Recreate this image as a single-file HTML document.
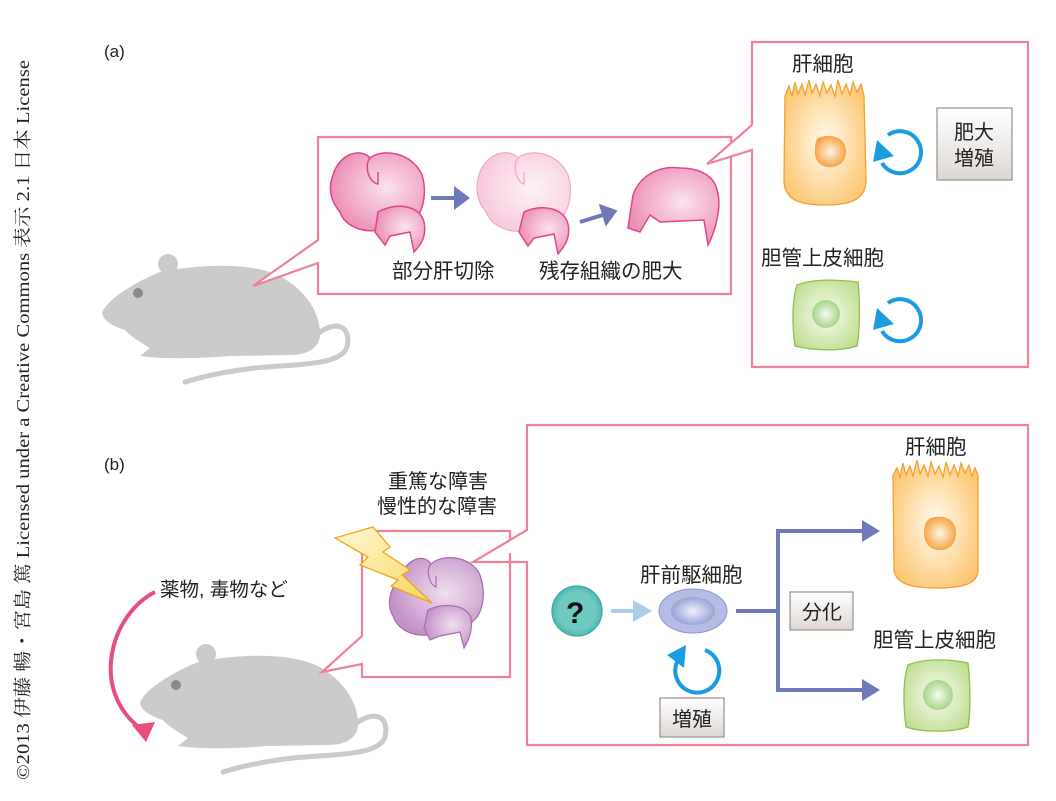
<!DOCTYPE html>
<html><head><meta charset="utf-8"><style>
html,body{margin:0;padding:0;background:#fff;}
svg{display:block;}
text{font-family:"Liberation Sans","Noto Sans CJK JP",sans-serif;fill:#222;}
</style></head><body>
<svg width="1056" height="801" viewBox="0 0 1056 801" xmlns="http://www.w3.org/2000/svg">
<defs>
<radialGradient id="pk" cx="0.6" cy="0.45" r="0.6"><stop offset="0" stop-color="#fbe3ef"/><stop offset="1" stop-color="#ec8fb6"/></radialGradient>
<radialGradient id="pkl" cx="0.6" cy="0.45" r="0.6"><stop offset="0" stop-color="#fdf1f6"/><stop offset="1" stop-color="#f7cadd"/></radialGradient>
<radialGradient id="pu" cx="0.6" cy="0.45" r="0.6"><stop offset="0" stop-color="#f1dff0"/><stop offset="1" stop-color="#c390c7"/></radialGradient>
<radialGradient id="or" cx="0.5" cy="0.5" r="0.7"><stop offset="0" stop-color="#fffaf0"/><stop offset="1" stop-color="#fbbd5a"/></radialGradient>
<radialGradient id="orn" cx="0.5" cy="0.5" r="0.5"><stop offset="0" stop-color="#fff6e6"/><stop offset="1" stop-color="#f6a548"/></radialGradient>
<radialGradient id="gr" cx="0.5" cy="0.5" r="0.7"><stop offset="0" stop-color="#f8fcef"/><stop offset="1" stop-color="#b6d982"/></radialGradient>
<radialGradient id="grn" cx="0.5" cy="0.5" r="0.5"><stop offset="0" stop-color="#f4fbee"/><stop offset="1" stop-color="#a8d58a"/></radialGradient>
<radialGradient id="bl" cx="0.5" cy="0.5" r="0.5"><stop offset="0" stop-color="#eef0fa"/><stop offset="1" stop-color="#9ba3d6"/></radialGradient>
<radialGradient id="tq" cx="0.5" cy="0.5" r="0.5"><stop offset="0" stop-color="#d8f2ef"/><stop offset="1" stop-color="#4cb9b0"/></radialGradient>
<linearGradient id="bx" x1="0" y1="0" x2="0" y2="1"><stop offset="0" stop-color="#ffffff"/><stop offset="1" stop-color="#ddd8d4"/></linearGradient>
<linearGradient id="lt" x1="0" y1="0" x2="1" y2="1"><stop offset="0" stop-color="#fff9d8"/><stop offset="1" stop-color="#fbd45c"/></linearGradient>
<marker id="ab" markerWidth="6" markerHeight="6" refX="1" refY="3" orient="auto" markerUnits="strokeWidth"><path d="M0,0 L4,3 L0,6Z" fill="#6f78b8"/></marker>
<g id="mouse">
<path d="M312,338 C335,318 352,325 347,347 C341,366 295,364 255,368 C220,372 198,378 185,382" fill="none" stroke="#cbcbcb" stroke-width="5" stroke-linecap="round"/>
<circle cx="168" cy="264" r="10" fill="#cbcbcb"/>
<path d="M102,313 C106,300 135,282 160,272 C200,264 250,262 280,276 C305,290 318,310 320,330 C322,346 310,355 290,355 L230,356 C200,358 170,360 140,356 L150,348 C140,342 130,336 125,330 C112,326 103,320 102,313Z" fill="#cbcbcb"/>
</g>
</defs>

<text x="0" y="0" transform="translate(29,780) rotate(-90)" font-size="18" textLength="720" lengthAdjust="spacingAndGlyphs" style="font-family:'Liberation Serif','Noto Serif CJK SC',serif">©2013 伊藤 暢・宮島 篤 Licensed under a Creative Commons 表示 2.1 日本 License</text>

<!-- (a) -->
<text x="104" y="57" font-size="17">(a)</text>
<use href="#mouse"/>
<circle cx="138" cy="293" r="5" fill="#8a8a8a"/>
<path d="M318,240 L318,137 L731,137 L731,294 L318,294 L318,263 L253,286 Z" fill="#fff" stroke="#ee8296" stroke-width="2.2"/>
<path d="M752,125 L752,42 L1028,42 L1028,367 L752,367 L752,150 L707,164 L752,125" fill="#fff" stroke="#ee8296" stroke-width="2.2"/>

<g stroke="#e0448a" stroke-width="1.5">
<path d="M333,175 C340,152 362,148 370,158 C382,148 412,152 422,175 C428,195 422,215 412,222 L385,228 C368,235 345,228 340,212 C330,200 328,188 333,175Z" fill="url(#pk)"/>
<path d="M370,158 C364,165 368,182 378,184 L378,172" fill="none"/>
<path d="M378,212 C395,202 420,205 424,222 C427,237 420,246 414,252 L410,232 L390,236 L385,245 L375,232 Z" fill="url(#pk)"/>
</g>
<g stroke="#f4a5c5" stroke-width="1.2">
<path d="M480,172 C488,152 510,148 518,158 C530,148 558,152 568,175 C574,195 568,215 557,222 L530,230 C512,235 492,227 486,212 C476,200 475,186 480,172Z" fill="url(#pkl)"/>
<path d="M518,158 C512,165 516,182 524,184 L524,172" fill="none"/>
</g>
<path d="M524,212 C540,204 564,207 568,224 C571,238 564,247 558,254 L554,234 L534,238 L528,246 L519,232 Z" fill="url(#pk)" stroke="#e0448a" stroke-width="1.5"/>
<path d="M633,195 C640,175 660,165 680,168 C700,168 714,176 717,190 C722,205 716,230 708,245 L704,220 L660,222 L650,215 L640,232 L628,228 Z" fill="url(#pk)" stroke="#e0448a" stroke-width="1.5"/>
<line x1="431" y1="198" x2="458" y2="198" stroke="#6f78b8" stroke-width="4" marker-end="url(#ab)"/>
<line x1="580" y1="222" x2="606" y2="214" stroke="#6f78b8" stroke-width="4" marker-end="url(#ab)"/>
<text x="392" y="278" font-size="20.5">部分肝切除</text>
<text x="539" y="278" font-size="20.5">残存組織の肥大</text>

<text x="792" y="71" font-size="20.5">肝細胞</text>
<path d="M785,96 L789,86 L792,96 L795,82 L798,94 L802,84 L805,95 L809,80 L812,93 L816,84 L820,96 L823,82 L827,93 L831,85 L835,96 L838,80 L842,94 L846,84 L850,95 L853,82 L857,92 L861,84 L864,96 L866,180 C866,200 850,205 825,205 C800,205 784,200 784,180 Z" fill="url(#or)" stroke="#f2a22f" stroke-width="1.3"/>
<path d="M818,138 C830,133 845,137 846,150 C847,162 838,168 828,167 C818,166 814,158 815,150 C815,143 816,140 818,138Z" fill="url(#orn)"/>
<path d="M888,135 A21,21 0 1,1 882,163" fill="none" stroke="#1a9de0" stroke-width="4"/>
<path d="M873,162 L877,140 L894,156 Z" fill="#1a9de0"/>
<rect x="937" y="108" width="75" height="72" fill="url(#bx)" stroke="#9a9088" stroke-width="1.2"/>
<text x="954" y="139" font-size="20">肥大</text>
<text x="954" y="165" font-size="20">増殖</text>
<text x="761" y="265" font-size="20.5">胆管上皮細胞</text>
<path d="M797,285 C815,278 840,280 858,282 C860,300 860,330 857,346 C840,352 810,350 795,346 C792,325 792,300 797,285Z" fill="url(#gr)" stroke="#8cc14a" stroke-width="1.3"/>
<circle cx="826" cy="314" r="14" fill="url(#grn)"/>
<path d="M888,303 A21,21 0 1,1 882,331" fill="none" stroke="#1a9de0" stroke-width="4"/>
<path d="M873,330 L877,308 L894,324 Z" fill="#1a9de0"/>

<!-- (b) -->
<text x="104" y="470" font-size="17">(b)</text>
<use href="#mouse" transform="translate(38,390)"/>
<circle cx="176" cy="685" r="5" fill="#8a8a8a"/>
<text x="160" y="596" font-size="19.5">薬物, 毒物など</text>
<path d="M155,592 C110,615 90,690 140,728" fill="none" stroke="#e45079" stroke-width="4"/>
<path d="M132,725 L155,722 L146,742 Z" fill="#e45079"/>
<text x="388" y="488" font-size="20">重篤な障害</text>
<text x="377" y="513" font-size="20">慢性的な障害</text>

<path d="M362,636 L362,531 L510,531 L510,677 L362,677 L362,664 L322,672 Z" fill="#fff" stroke="#ee8296" stroke-width="2.2"/>
<path d="M527,530 L527,425 L1028,425 L1028,745 L527,745 L527,562 L473,562 Z" fill="#fff" stroke="#ee8296" stroke-width="2.2"/>
<line x1="510" y1="553" x2="510" y2="565" stroke="#ee8296" stroke-width="2.2"/>

<g stroke="#a86cae" stroke-width="1.2">
<path d="M398,580 C408,556 425,554 431,564 C442,553 472,556 480,575 C487,595 482,615 472,622 L440,632 C420,640 398,632 393,616 C386,605 390,590 398,580Z" fill="url(#pu)"/>
<path d="M431,564 C425,572 430,585 436,587 L436,576" fill="none"/>
<path d="M428,610 C445,602 467,605 471,618 C473,630 469,640 464,648 L460,632 L440,636 L430,640 L424,628 Z" fill="url(#pu)"/>
</g>
<path d="M335,538 L373,527 L390,547 L383,552 L410,570 L402,575 L432,603 L391,586 L398,580 L360,565 L368,557 Z" fill="url(#lt)" stroke="#f0a51a" stroke-width="1.3"/>

<circle cx="577" cy="611" r="25" fill="url(#tq)" stroke="#3aa9a2" stroke-width="1.2"/>
<circle cx="577" cy="611" r="17" fill="#6ccac2"/>
<text x="566" y="623" font-size="30" font-weight="bold" style="fill:#111">?</text>
<line x1="611" y1="611" x2="634" y2="611" stroke="#a9cdea" stroke-width="4"/>
<path d="M633,600 L652,611 L633,622 Z" fill="#a9cdea"/>
<text x="640" y="582" font-size="20.5">肝前駆細胞</text>
<ellipse cx="693" cy="611" rx="34" ry="22" fill="#b4bce6" stroke="#8d97cf" stroke-width="1"/>
<ellipse cx="693" cy="611" rx="22" ry="14" fill="url(#bl)"/>
<path d="M705,650 A22,22 0 1,1 678,660" fill="none" stroke="#1a9de0" stroke-width="4"/>
<path d="M667,655 L686,645 L684,668 Z" fill="#1a9de0"/>
<rect x="660" y="698" width="64" height="39" fill="url(#bx)" stroke="#9a9088" stroke-width="1.2"/>
<text x="672" y="726" font-size="20">増殖</text>

<path d="M736,611 L778,611 M778,531 L778,692" stroke="#6f78b8" stroke-width="4" fill="none"/>
<path d="M776,531 L862,531 M776,690 L862,690" stroke="#6f78b8" stroke-width="4" fill="none"/>
<path d="M862,520 L880,531 L862,542 Z M862,679 L880,690 L862,701 Z" fill="#6f78b8"/>
<rect x="790" y="592" width="63" height="38" fill="url(#bx)" stroke="#9a9088" stroke-width="1.2"/>
<text x="802" y="619" font-size="20">分化</text>

<text x="905" y="454" font-size="20.5">肝細胞</text>
<path d="M893,475 L897,468 L900,477 L903,463 L906,475 L910,466 L913,476 L917,460 L920,474 L924,465 L928,476 L931,462 L935,474 L939,466 L943,477 L946,462 L950,475 L954,465 L958,476 L961,463 L965,473 L969,465 L972,476 L975,468 L978,475 L978,570 C978,585 960,588 937,588 C912,588 894,584 894,568 Z" fill="url(#or)" stroke="#f2a22f" stroke-width="1.3"/>
<path d="M931,518 C945,514 956,520 956,533 C956,545 948,551 938,550 C928,549 924,541 924,533 C924,525 926,520 931,518Z" fill="url(#orn)"/>
<text x="873" y="647" font-size="20.5">胆管上皮細胞</text>
<path d="M908,665 C925,658 950,659 968,663 C970,680 971,710 968,727 C950,733 920,732 906,727 C903,705 903,680 908,665Z" fill="url(#gr)" stroke="#8cc14a" stroke-width="1.3"/>
<circle cx="938" cy="695" r="15" fill="url(#grn)"/>
</svg>
</body></html>
